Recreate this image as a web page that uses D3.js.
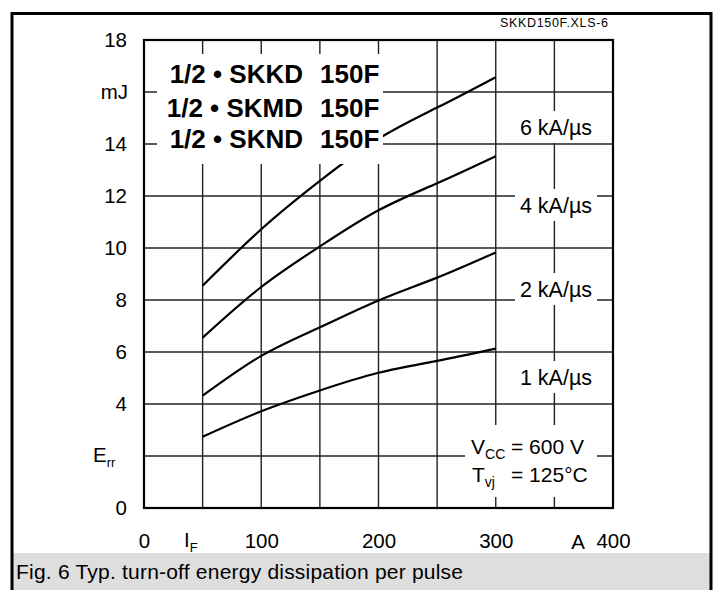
<!DOCTYPE html>
<html><head><meta charset="utf-8">
<script src="https://cdn.jsdelivr.net/npm/d3@7/dist/d3.min.js"></script>
<style>
html,body{margin:0;padding:0;background:#fff;}
svg{display:block;font-family:"Liberation Sans",Arial,Helvetica,sans-serif;}
</style></head>
<body>
<svg id="c" width="716" height="590"></svg>
<script>
// ---- data ----
const currents = [50, 100, 150, 200, 250, 300];           // I_F in A
const err1kA = [2.74, 3.72, 4.52, 5.20, 5.66, 6.13];      // mJ, 1 kA/µs
const err2kA = [4.32, 5.85, 6.95, 7.98, 8.86, 9.83];      // mJ, 2 kA/µs
const err4kA = [6.55, 8.50, 10.06, 11.45, 12.49, 13.53];  // mJ, 4 kA/µs
const err6kA = [8.55, 10.72, 12.58, 14.20, 15.40, 16.57]; // mJ, 6 kA/µs
const seriesNames = ["1 kA/µs", "2 kA/µs", "4 kA/µs", "6 kA/µs"];
const xTicks = [0, 100, 200, 300, 400];
const xGrid = [50, 100, 150, 200, 250, 300, 350];
const yTicks = [0, 4, 6, 8, 10, 12, 14, 18];
const yGrid = [2, 4, 6, 8, 10, 12, 14, 16];
const titleLeft = ["1/2 • SKKD", "1/2 • SKMD", "1/2 • SKND"];
const titleRight = ["150F", "150F", "150F"];
const caption = "Fig. 6 Typ. turn-off energy dissipation per pulse";
const fileTag = "SKKD150F.XLS-6";

const svg = d3.select("#c");
const x = d3.scaleLinear().domain([0, 400]).range([144, 613]);
const y = d3.scaleLinear().domain([0, 18]).range([508, 40]);

// outer frame and caption band
svg.append("rect").attr("x", 12).attr("y", 553).attr("width", 700).attr("height", 40).attr("fill", "#dedede");
svg.append("path").attr("d", "M12,600 V13.5 H711 V600").attr("fill", "none").attr("stroke", "#000").attr("stroke-width", 3);

// grid
const grid = svg.append("g");
grid.selectAll(".vg").data(xGrid).join("line")
  .attr("x1", d => x(d)).attr("x2", d => x(d)).attr("y1", y(18)).attr("y2", y(0))
  .attr("stroke", "#222").attr("stroke-width", 1.4);
grid.selectAll(".hg").data(yGrid).join("line")
  .attr("y1", d => y(d)).attr("y2", d => y(d)).attr("x1", x(0)).attr("x2", x(400))
  .attr("stroke", "#222").attr("stroke-width", 1.4);

// curves
const seriesVals = [err1kA, err2kA, err4kA, err6kA];
const line = d3.line().x(d => x(d[0])).y(d => y(d[1])).curve(d3.curveNatural);
svg.append("g").selectAll("path").data(seriesVals).join("path")
  .attr("d", v => line(currents.map((c, i) => [c, v[i]])))
  .attr("fill", "none").attr("stroke", "#000").attr("stroke-width", 2.2);

// white boxes masking grid
function mask(x0, y0, x1, y1) {
  svg.append("rect").attr("x", x0).attr("y", y0).attr("width", x1 - x0).attr("height", y1 - y0).attr("fill", "#fff");
}
mask(157, 54, 383, 164);
const labelCenters = [377, 289, 205, 127];
labelCenters.forEach(cy => mask(515, cy - 16, 597, cy + 16));
mask(465, 425, 597, 497);

// plot border
svg.append("rect").attr("x", x(0)).attr("y", y(18)).attr("width", x(400) - x(0)).attr("height", y(0) - y(18))
  .attr("fill", "none").attr("stroke", "#000").attr("stroke-width", 2.2);

// title
const tg = svg.append("g").attr("font-weight", "bold").attr("font-size", 26).attr("fill", "#000");
const tY = [73, 107, 138];
titleLeft.forEach((t, i) => {
  tg.append("text").attr("x", 303).attr("y", tY[i] + 9.5).attr("text-anchor", "end").text(t);
  tg.append("text").attr("x", 320).attr("y", tY[i] + 9.5).text(titleRight[i]);
});

// series labels
svg.append("g").selectAll("text").data(seriesNames).join("text")
  .attr("x", 556).attr("y", (d, i) => labelCenters[i] + 7.5).attr("text-anchor", "middle")
  .attr("font-size", 21.5).text(d => d);

// y axis tick labels
const yAxis = d3.axisLeft(y).tickValues(yTicks).tickSize(0).tickPadding(0).tickFormat(d => d);
const ya = svg.append("g").attr("transform", "translate(127,0)").call(yAxis);
ya.select(".domain").remove();
ya.selectAll("text").attr("font-size", 20.5).attr("font-family", "Liberation Sans, Arial, sans-serif").attr("fill", "#000");
svg.append("text").attr("x", 128).attr("y", y(16) + 7).attr("text-anchor", "end").attr("font-size", 20.5).text("mJ");
const errT = svg.append("text").attr("x", 93).attr("y", y(2) + 6).attr("font-size", 20.5);
errT.append("tspan").text("E");
errT.append("tspan").attr("font-size", 13).attr("dy", 5).text("rr");

// x axis tick labels
const xAxis = d3.axisBottom(x).tickValues(xTicks).tickSize(0).tickPadding(0).tickFormat(d => d);
const xa = svg.append("g").attr("transform", "translate(0,533)").call(xAxis);
xa.select(".domain").remove();
xa.selectAll("text").attr("font-size", 20.5).attr("font-family", "Liberation Sans, Arial, sans-serif").attr("fill", "#000").attr("dy", 0).attr("y", 14.5);
const ifT = svg.append("text").attr("x", 184).attr("y", 547).attr("font-size", 20.5);
ifT.append("tspan").text("I");
ifT.append("tspan").attr("font-size", 13).attr("dy", 5).text("F");
svg.append("text").attr("x", 578).attr("y", 549).attr("text-anchor", "middle").attr("font-size", 20.5).text("A");

// conditions
const c1 = svg.append("text").attr("x", 471).attr("y", 454).attr("font-size", 21);
c1.append("tspan").text("V");
c1.append("tspan").attr("font-size", 14).attr("dy", 5).text("CC");
svg.append("text").attr("x", 511).attr("y", 454).attr("font-size", 21).text("= 600 V");
const c2 = svg.append("text").attr("x", 472).attr("y", 482).attr("font-size", 21);
c2.append("tspan").text("T");
c2.append("tspan").attr("font-size", 14).attr("dy", 5).text("vj");
svg.append("text").attr("x", 511).attr("y", 482).attr("font-size", 21).text("= 125°C");

// file tag
svg.append("text").attr("x", 500).attr("y", 27).attr("font-size", 12.5).attr("textLength", 108).text(fileTag);

// caption
svg.append("text").attr("x", 16).attr("y", 579).attr("font-size", 21).attr("textLength", 447).text(caption);
</script>
</body></html>
